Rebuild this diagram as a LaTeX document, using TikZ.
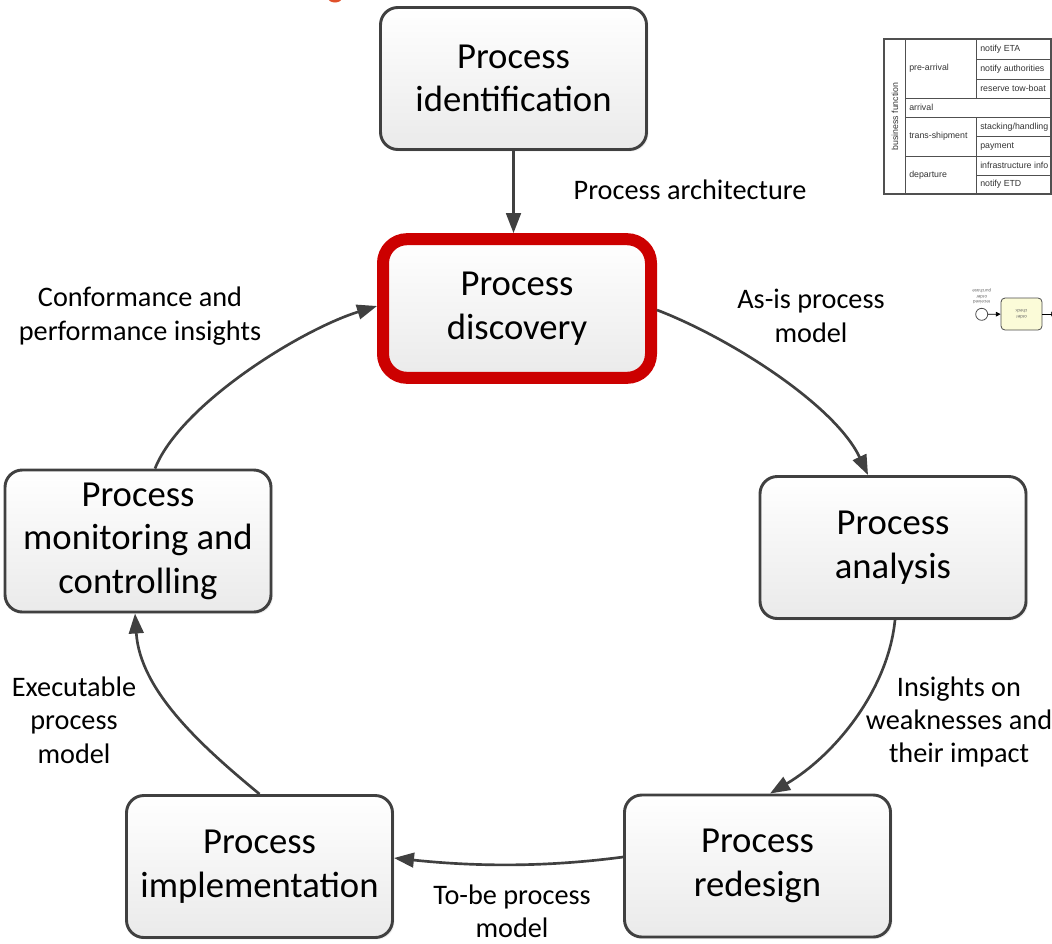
\documentclass[tikz,border=0pt]{standalone}
\usepackage{fontspec}
\setmainfont{Carlito}
\newfontfamily\tabfont{Liberation Sans}
\usetikzlibrary{arrows.meta,calc,shadows}
\definecolor{edge}{HTML}{404040}
\definecolor{accent}{HTML}{CC0000}
\definecolor{boxbot}{HTML}{EAEAEA}
\definecolor{taskfill}{HTML}{FBFBD8}
\definecolor{tabline}{HTML}{505050}
\definecolor{tabtext}{HTML}{333333}
\definecolor{titlered}{HTML}{E0502A}
\begin{document}
\begin{tikzpicture}[x=0.75pt,y=-0.75pt,
  phase/.style={draw=edge, line width=2.2pt, rounded corners=13pt,
    top color=white, bottom color=boxbot,
    minimum width=199.5pt, minimum height=106.5pt, align=center,
    font=\fontsize{27.5}{32.6}\selectfont,
    drop shadow={shadow xshift=1.5pt, shadow yshift=-1.5pt, opacity=0.12}},
  focus/.style={phase, draw=accent, line width=9pt, rounded corners=18pt,
    minimum width=201pt, minimum height=104pt},
  flow/.style={draw=edge, line width=2pt, -{Triangle[length=15pt,width=11pt]}},
  lbl/.style={align=center, font=\fontsize{21.2}{25}\selectfont, inner sep=0pt},
  cell/.style={font=\tabfont\fontsize{6.6}{7.5}\selectfont, text=tabtext, anchor=west, inner sep=0pt},
  tab/.style={draw=tabline, line width=0.7pt},
  tiny/.style={font=\tabfont\fontsize{3.4}{4.2}\selectfont, text=gray!80!black, align=center, inner sep=0pt},
]
\clip (0,0) rectangle (1052,943);

% cut-off heading fragment at the top edge
\fill[titlered] (335,-2) ellipse (7 and 4.5);

% lifecycle phases
\node[phase] (ident) at (513.5,78.5) {Process\\identification};
\node[focus] (disc)  at (517,308.5)  {Process\\discovery};
\node[phase] (ana)   at (893,547.5)  {Process\\analysis};
\node[phase] (redes) at (757.5,866)  {Process\\redesign};
\node[phase] (impl)  at (259.5,866.5) {Process\\implementation};
\node[phase] (mon)   at (138,541)    {Process\\monitoring and\\controlling};

% connectors
\draw[flow] (ident.south) -- (ident.south |- disc.north);
\draw[flow] ($(disc.east)+(0,1.5)$) .. controls (730,338) and (835,405) .. ($(ana.north)+(-25,0)$);
\draw[flow] ($(ana.south)+(2,0)$) .. controls (888,690) and (835,755) .. ($(redes.north)+(12.5,0)$);
\draw[flow] ($(redes.west)+(0,-9)$) .. controls (540,868) and (470,866) .. ($(impl.east)+(0,-8.5)$);
\draw[flow] (impl.north) .. controls (200,745) and (140,690) .. ($(mon.south)+(-3,0)$);
\draw[flow] ($(mon.north)+(17,0)$) .. controls (180,405) and (300,330) .. ($(disc.west)+(0,-2.5)$);

% connector labels
\node[lbl] (larch) at (690,190) {Process architecture};
\node[lbl] (lasis) at (811,316) {As-is process\\model};
\node[lbl] (lins)  at (959,722) {Insights on\\weaknesses and\\their impact};
\node[lbl] (ltobe) at (512,911) {To-be process\\model};
\node[lbl] (lexec) at (74,720)  {Executable\\process\\model};
\node[lbl] (lconf) at (140,316) {Conformance and\\performance insights};

% process architecture table
\draw[tab, line width=1.1pt] (884,39) rectangle (1051,194);
\draw[tab] (905,39) -- (905,194);
\draw[tab] (976,39) -- (976,98.3);
\draw[tab] (976,117.3) -- (976,194);
\draw[tab] (976,59.3) -- (1051,59.3);
\draw[tab] (976,79) -- (1051,79);
\draw[tab] (905,98.3) -- (1051,98.3);
\draw[tab] (905,117.3) -- (1051,117.3);
\draw[tab] (976,136.7) -- (1051,136.7);
\draw[tab] (905,156) -- (1051,156);
\draw[tab] (976,175) -- (1051,175);
\node[cell, anchor=center, rotate=90] (tbf) at (895,116.5) {business function};
\node[cell] (tpre)  at (909,68.6)  {pre-arrival};
\node[cell] (teta)  at (980,49.3)  {notify ETA};
\node[cell] (tauth) at (980,69)    {notify authorities};
\node[cell] (ttow)  at (980,88.6)  {reserve tow-boat};
\node[cell] (tarr)  at (909,107.8) {arrival};
\node[cell] (ttra)  at (909,136.7) {trans-shipment};
\node[cell] (tsta)  at (980,127)   {stacking/handling};
\node[cell] (tpay)  at (980,146.3) {payment};
\node[cell] (tdep)  at (909,175)   {departure};
\node[cell] (tinf)  at (980,165.5) {infrastructure info};
\node[cell] (tetd)  at (980,184.6) {notify ETD};

% process model fragment
\node[circle, draw=gray!60!black, line width=0.6pt, fill=white, minimum size=9pt, inner sep=0pt] (bstart) at (981.7,314.3) {};
\node[draw=gray!60!black, line width=0.6pt, fill=taskfill, rounded corners=3pt,
      minimum width=30.75pt, minimum height=24pt, inner sep=0pt] (btask) at (1021.5,314) {};
\node[tiny, rotate=180] (blbl) at (981.7,296.5) {received\\order\\purchase};
\node[tiny, rotate=180] (btxt) at (1021.5,314) {order\\check};
\coordinate (bout) at (1056,314);
\draw[draw=black, line width=0.6pt, -{Triangle[length=3.5pt,width=3.5pt]}] (bstart) -- (btask);
\draw[draw=black, line width=0.6pt, -{Triangle[length=3.5pt,width=3.5pt]}] (btask) -- (bout);
\end{tikzpicture}
\end{document}
